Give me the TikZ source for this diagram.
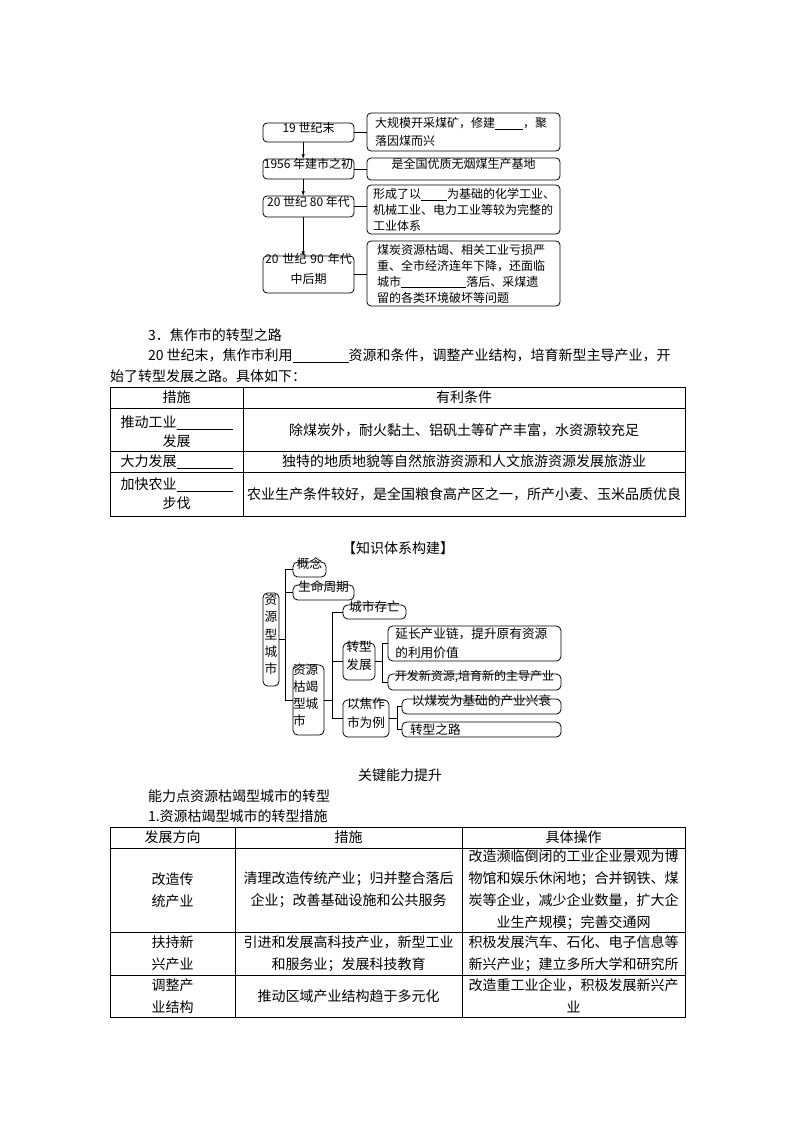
\documentclass[tikz,border=0pt]{standalone}
\usepackage{fontspec}
\setmainfont{Noto Sans CJK SC}
\usetikzlibrary{fit,arrows.meta}
\newcommand\fsz[2]{\fontsize{#1}{#2}\selectfont}
\newcommand\blk[1]{\rule[-1.5pt]{#1}{0.45pt}}
\begin{document}
\begin{tikzpicture}[x=0.75pt,y=-0.75pt,
  every node/.style={inner sep=0pt, outer sep=0pt},
  fbox/.style={draw, line width=0.6pt, rounded corners=3pt, inner sep=0pt},
  tbox/.style={draw, line width=0.6pt, rounded corners=3.5pt, inner sep=0pt},
  link/.style={line width=0.6pt},
  arr/.style={line width=0.6pt, -{Latex[length=3.5pt,width=2.6pt]}},
  grid/.style={line width=0.6pt},
  ff/.style={font=\fsz{9}{12}},
  tf/.style={font=\fsz{9.5}{13}},
  body/.style={font=\fsz{10.5}{15}},
  cell/.style={font=\fsz{10.5}{16.5}, align=center},
]
\fill[white] (0,0) rectangle (794,1123);
\useasboundingbox (0,0) rectangle (794,1123);

% ---------- top flowchart ----------
\node[fbox, fit={(263,123)(354,142)}, ff] (a1) {19 世纪末};
\node[fbox, fit={(263,159)(354,179)}, ff] (a2) {1956 年建市之初};
\node[fbox, fit={(263,196)(354,217)}, ff] (a3) {20 世纪 80 年代};
\node[fbox, fit={(263,256)(354,293)}, font=\fsz{9}{15}, align=center] (a4) {20 世纪 90 年代\\中后期};

\node[fbox, fit={(367,113)(560,151)}] (r1) {};
\node[anchor=west, font=\fsz{9}{13.5}, align=left] (r1t) at ([xshift=6pt]r1.west) {大规模开采煤矿，修建\blk{21pt}，聚\\落因煤而兴};
\node[fbox, fit={(367,158)(560,180)}, ff] (r2) {是全国优质无烟煤生产基地};
\node[fbox, fit={(367,185)(560,234)}] (r3) {};
\node[anchor=west, font=\fsz{9}{12}, align=left] (r3t) at ([xshift=4.5pt]r3.west) {形成了以\blk{19.5pt}为基础的化学工业、\\机械工业、电力工业等较为完整的\\工业体系};
\node[fbox, fit={(367,241)(560,306)}] (r4) {};
\node[anchor=west, font=\fsz{9}{12}, align=left] (r4t) at ([xshift=7.5pt]r4.west) {煤炭资源枯竭、相关工业亏损严\\重、全市经济连年下降，还面临\\城市\blk{49pt}落后、采煤遗\\留的各类环境破坏等问题};

\draw[arr] ([xshift=-4pt]a1.south) -- ([xshift=-4pt]a2.north);
\draw[arr] ([xshift=-4pt]a2.south) -- ([xshift=-4pt]a3.north);
\draw[arr] ([xshift=-4pt]a3.south) -- ([xshift=-4pt]a4.north);
\draw[link] (a1.east) -- (a1.east -| r1.west);
\draw[link] (a2.east) -- (a2.east -| r2.west);
\draw[link] (a3.east) -- (a3.east -| r3.west);
\draw[link] (a4.east) -- (a4.east -| r4.west);

% ---------- section 3 ----------
\node[anchor=west, body] (s3t) at (148,335) {3．焦作市的转型之路};
\node[anchor=west, body] (s3a) at (148,356) {20 世纪末，焦作市利用\blk{42pt}资源和条件，调整产业结构，培育新型主导产业，开};
\node[anchor=west, body] (s3b) at (110,376) {始了转型发展之路。具体如下：};

\draw[grid] (110,387) rectangle (685,516);
\draw[grid] (110,408) -- (685,408);
\draw[grid] (110,451) -- (685,451);
\draw[grid] (110,472) -- (685,472);
\draw[grid] (243,387) -- (243,516);

\node[body] (h1) at (176.5,397.5) {措施};
\node[body] (h2) at (464,397.5) {有利条件};
\node[font=\fsz{10.5}{14.25}, align=center] (c11) at (176.5,431.5) {推动工业\blk{42pt}\\发展};
\node[body] (c12) at (464,430) {除煤炭外，耐火黏土、铝矾土等矿产丰富，水资源较充足};
\node[body] (c21) at (176.5,461.5) {大力发展\blk{42pt}};
\node[body] (c22) at (464,461.5) {独特的地质地貌等自然旅游资源和人文旅游资源发展旅游业};
\node[font=\fsz{10.5}{14.25}, align=center] (c31) at (176.5,494) {加快农业\blk{42pt}\\步伐};
\node[body] (c32) at (464,494) {农业生产条件较好，是全国粮食高产区之一，所产小麦、玉米品质优良};

% ---------- knowledge tree ----------
\node[font=\fsz{10.5}{12}] (kt) at (398,548) {【知识体系构建】};

\node[tbox, fit={(263,593)(279,686)}, font=\fsz{9.5}{13.1}, align=center] (t0) {资\\源\\型\\城\\市};
\node[tbox, fit={(293,562)(326,577)}, tf] (t1) {概念};
\node[tbox, fit={(293,585)(354,600)}, tf] (t2) {生命周期};
\node[tbox, fit={(293,665)(324,735)}, font=\fsz{9.5}{12.75}, align=left] (t3) {资源\\枯竭\\型城\\市};
\node[tbox, fit={(343,605)(406,619)}, tf] (t4) {城市存亡};
\node[tbox, fit={(343,643)(375,680)}, font=\fsz{9.5}{13.5}, align=center] (t5) {转型\\发展};
\node[tbox, fit={(343,700)(389,737)}, font=\fsz{9.5}{14}, align=center] (t6) {以焦作\\市为例};
\node[tbox, fit={(388,626)(561,661)}] (t7) {};
\node[anchor=west, font=\fsz{9.5}{14}, align=left] (t7t) at ([xshift=5.5pt]t7.west) {延长产业链，提升原有资源\\的利用价值};
\node[tbox, fit={(388,674)(561,690)}, font=\fsz{9}{12}] (t8) {开发新资源,培育新的主导产业};
\node[tbox, fit={(402,699)(561,714)}, tf] (t9) {以煤炭为基础的产业兴衰};
\node[tbox, fit={(402,722)(561,737)}] (t10) {};
\node[anchor=west, tf] (t10t) at ([xshift=6pt]t10.west) {转型之路};

\coordinate (k1) at (285,640);
\coordinate (k2) at (332,699);
\coordinate (k3) at (382,662);
\coordinate (k4) at (397,718);

\draw[link] (t0.east) -- (t0.east -| k1);
\draw[link] (t1.west) -- (t1.west -| k1) -- (t3.west -| k1) -- (t3.west);
\draw[link] (t2.west) -- (t2.west -| k1);

\draw[link] (t3.east) -- (t3.east -| k2);
\draw[link] (t4.west) -- (t4.west -| k2) -- (t6.west -| k2) -- (t6.west);
\draw[link] (t5.west) -- (t5.west -| k2);

\draw[link] (t5.east) -- (t5.east -| k3);
\draw[link] (t7.west) -- (t7.west -| k3) -- (t8.west -| k3) -- (t8.west);

\draw[link] (t6.east) -- (t6.east -| k4);
\draw[link] (t9.west) -- (t9.west -| k4) -- (t10.west -| k4) -- (t10.west);

% ---------- key ability ----------
\node[body] (kc) at (400,775) {关键能力提升};
\node[body, anchor=west] (kp) at (148,796) {能力点资源枯竭型城市的转型};
\node[body, anchor=west] (kq) at (148,816) {1.资源枯竭型城市的转型措施};

\draw[grid] (110,827) rectangle (685,1017);
\draw[grid] (110,848) -- (685,848);
\draw[grid] (110,932) -- (685,932);
\draw[grid] (110,975) -- (685,975);
\draw[grid] (235,827) -- (235,1017);
\draw[grid] (462,827) -- (462,1017);

\node[body] (g1) at (172.5,837.5) {发展方向};
\node[body] (g2) at (348.5,837.5) {措施};
\node[body] (g3) at (573.5,837.5) {具体操作};

\node[cell] (d11) at (172.5,890) {改造传\\统产业};
\node[cell] (d12) at (348.5,890) {清理改造传统产业；归并整合落后\\企业；改善基础设施和公共服务};
\node[cell] (d13) at (573.5,890) {改造濒临倒闭的工业企业景观为博\\物馆和娱乐休闲地；合并钢铁、煤\\炭等企业，减少企业数量，扩大企\\业生产规模；完善交通网};

\node[cell] (d21) at (172.5,953.5) {扶持新\\兴产业};
\node[cell] (d22) at (348.5,953.5) {引进和发展高科技产业，新型工业\\和服务业；发展科技教育};
\node[cell] (d23) at (573.5,953.5) {积极发展汽车、石化、电子信息等\\新兴产业；建立多所大学和研究所};

\node[cell] (d31) at (172.5,996) {调整产\\业结构};
\node[cell] (d32) at (348.5,996) {推动区域产业结构趋于多元化};
\node[cell] (d33) at (573.5,996) {改造重工业企业，积极发展新兴产\\业};
\end{tikzpicture}
\end{document}
